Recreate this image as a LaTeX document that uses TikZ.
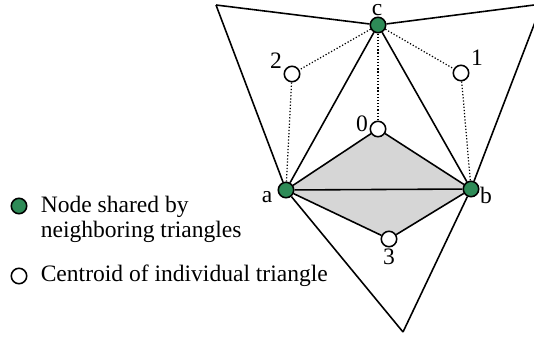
\documentclass[tikz,border=0pt]{standalone}
\usepackage{fontspec}
\setmainfont{Liberation Serif}
\usetikzlibrary{backgrounds}
\definecolor{nodegreen}{RGB}{46,139,87}

\begin{document}
\begin{tikzpicture}[x=0.02cm,y=-0.02cm,line width=0.9pt,
  font=\fontsize{13.4}{14.2}\selectfont,
  shared/.style={circle,draw,fill=nodegreen,inner sep=0pt,minimum size=8.8pt},
  cent/.style={circle,draw,fill=white,inner sep=0pt,minimum size=8.8pt},
  lbl/.style={inner sep=0pt,anchor=base},
  dots/.style={line width=0.7pt,dash pattern=on 0.7pt off 1.1pt}]
\useasboundingbox (0,0) rectangle (534,338);
\clip (0,0) rectangle (534,338);
% outer vertices
\coordinate (tl) at (216,5);
\coordinate (tr) at (542,4);
\coordinate (bt) at (403,332);
% mesh nodes
\node[shared] (c) at (378,25) {};
\node[shared] (a) at (286,190) {};
\node[shared] (b) at (471,189) {};
\node[cent] (n0) at (378,129) {};
\node[cent] (n1) at (461,73) {};
\node[cent] (n2) at (292,74) {};
\node[cent] (n3) at (389,239) {};
\node[lbl] (lc) at (377,15) {c};
\node[lbl] (la) at (267,202) {a};
\node[lbl] (lb) at (486,203) {b};
\node[lbl] (l0) at (362,131) {0};
\node[lbl] (l1) at (477,65) {1};
\node[lbl] (l2) at (276,68) {2};
\node[lbl] (l3) at (389,264) {3};
\begin{scope}[on background layer]
\fill[black!16] (a.center) -- (n0.center) -- (b.center) -- (n3.center) -- cycle;
\end{scope}
% triangles
\draw (tl) -- (c);
\draw (tl) -- (a);
\draw (tr) -- (c);
\draw (tr) -- (b);
\draw (bt) -- (a);
\draw (bt) -- (b);
\draw (c) -- (a);
\draw (c) -- (b);
\draw (a) -- (b);
\draw (a) -- (n0) -- (b);
\draw (a) -- (n3) -- (b);
% links to centroids
\draw[dots] (c) -- (n0);
\draw[dots] (c) -- (n1) -- (b);
\draw[dots] (c) -- (n2) -- (a);
% legend
\node[shared] (kshared) at (19,206) {};
\node[anchor=base west,align=left,inner sep=0pt] (tshared) at (40,237)
  {Node shared by\\neighboring triangles};
\node[cent] (kcent) at (19,276) {};
\node[anchor=base west,inner sep=0pt] (tcent) at (40,281) {Centroid of individual triangle};
\end{tikzpicture}
\end{document}
